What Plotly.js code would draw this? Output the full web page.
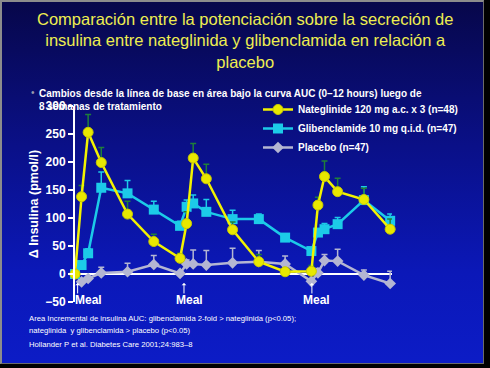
<!DOCTYPE html>
<html>
<head>
<meta charset="utf-8">
<script src="https://cdn.plot.ly/plotly-3.0.1.min.js"></script>
<style>
  html, body { margin:0; padding:0; background:#000; width:490px; height:368px; overflow:hidden; }
  #slide { position:absolute; left:0; top:0; width:481px; height:361px;
    border-top:2px solid #8c8c8c; border-left:2px solid #8c8c8c; border-right:1px solid #6a6a6a; border-bottom:1px solid #6a6a6a;
    background: linear-gradient(to bottom, #07074a 0%, #0a1088 40%, #0b18b8 75%, #0c1cc6 100%); }
  #chart { position:absolute; left:0; top:0; width:490px; height:368px; }
</style>
</head>
<body>
<div id="slide"></div>
<div id="chart"></div>
<script>
// ---- data ----
const timeHours = [0, 0.25, 0.5, 1, 2, 3, 4, 4.25, 4.5, 5, 6, 7, 8, 9, 9.25, 9.5, 10, 11, 12];
const nateglinide    = [0, 138, 253, 199, 107, 58, 28, 90, 207, 170, 79, 22, 4, 5, 123, 174, 147, 133, 80];
const nateglinideErr = [0, 20, 32, 27, 23, 13, 9, 21, 26, 26, 14, 13, 5, 10, 14, 28, 24, 20, 18];
const glibenclamide    = [0, 16, 37, 154, 144, 115, 86, 120, 126, 111, 98, 98, 65, 41, 74, 80, 89, 132, 95];
const glibenclamideErr = [0, 5, 8, 28, 23, 15, 8, 12, 15, 22, 16, 9, 5, 5, 6, 10, 12, 24, 12];
const placebo    = [0, -14, -8, 2, 4, 17, 1, 18, 18, 16, 20, 22, 18, -13, 2, 24, 23, -2, -17];
const placeboErr = [0, 0, 3, 10, 15, 16, 0, 7, 25, 26, 26, 20, 14, 0, 8, 11, 21, 9, 22];
const seriesNames = ['Nateglinide 120 mg a.c. x 3 (n=48)', 'Glibenclamide 10 mg q.i.d. (n=47)', 'Placebo (n=47)'];
const mealTimes = [0.1, 4.15, 9.02];
const mealLabelTimes = [0.5, 4.36, 9.18];
const yTicks = [-50, 0, 50, 100, 150, 200, 250, 300];

const FONT = 'Liberation Sans, Arial, sans-serif';
const zeros = timeHours.map(() => 0);

// plot area in pixels: x 75..392, y 106..302
const L = 75, R = 392, T = 106, B = 302;
const px = x => (x - L) / (R - L);
const py = y => (B - y) / (B - T);

const traces = [
  {
    x: timeHours, y: placebo, name: seriesNames[2], type: 'scatter', mode: 'lines+markers',
    line: {color: '#b4b6d2', width: 2.5},
    marker: {symbol: 'diamond', size: 9, color: '#b4b6d2'},
    error_y: {type: 'data', symmetric: false, array: placeboErr, arrayminus: zeros, color: '#b4b6d2', thickness: 1.5, width: 3},
    cliponaxis: false, legendrank: 3
  },
  {
    x: timeHours, y: glibenclamide, name: seriesNames[1], type: 'scatter', mode: 'lines+markers',
    line: {color: '#1ccbe8', width: 2.5},
    marker: {symbol: 'square', size: 10, color: '#1ccbe8'},
    error_y: {type: 'data', symmetric: false, array: glibenclamideErr, arrayminus: zeros, color: '#1ccbe8', thickness: 1.5, width: 3},
    cliponaxis: false, legendrank: 2
  },
  {
    x: timeHours, y: nateglinide, name: seriesNames[0], type: 'scatter', mode: 'lines+markers',
    line: {color: '#f2f200', width: 2.5},
    marker: {symbol: 'circle', size: 10, color: '#e8e800', line: {color: '#c8c800', width: 1}},
    error_y: {type: 'data', symmetric: false, array: nateglinideErr, arrayminus: zeros, color: '#1f7f3a', thickness: 1.5, width: 3},
    cliponaxis: false, legendrank: 1
  }
];

const annotations = [];
// title
annotations.push({xref: 'paper', yref: 'paper', x: px(245), y: py(8), xanchor: 'center', yanchor: 'top', align: 'center',
  text: 'Comparación entre la potenciación sobre la secreción de<br>insulina entre nateglinida y glibenclamida en relación a<br>placebo',
  showarrow: false, font: {family: FONT, size: 16.5, color: '#eeee50'}});
// subtitle bullet
annotations.push({xref: 'paper', yref: 'paper', x: px(29), y: py(92), xanchor: 'left', yanchor: 'middle',
  text: '•', showarrow: false, font: {family: FONT, size: 10, color: '#9a9aae'}});
annotations.push({xref: 'paper', yref: 'paper', x: px(37), y: py(86), xanchor: 'left', yanchor: 'top', align: 'left',
  text: 'Cambios desde la línea de base en área bajo la curva AUC (0–12 hours) luego de<br>8 semanas de tratamiento',
  showarrow: false, font: {family: FONT, size: 10, color: '#ffffff', weight: 'bold'}});
// meal arrows and labels
mealTimes.forEach(t => {
  annotations.push({xref: 'x', yref: 'y', x: t, y: -16, text: '', showarrow: true, ax: 0, ay: 12,
    arrowcolor: '#ffffff', arrowwidth: 1, arrowhead: 1, arrowsize: 0.8, standoff: 0});
});
mealLabelTimes.forEach(t => {
  annotations.push({xref: 'x', yref: 'y', x: t, y: -46, text: 'Meal', showarrow: false, xanchor: 'center', yanchor: 'middle',
    font: {family: FONT, size: 12, color: '#ffffff', weight: 'bold'}});
});
// footnotes
const foot = [
  ['Area Incremental de insulina AUC: glibenclamida 2-fold > nateglinida (p<0.05);', 318],
  ['nateglinida  y glibenclamida > placebo (p<0.05)', 330],
  ['Hollander P et al. Diabetes Care 2001;24:983–8', 344]
];
foot.forEach(([txt, y]) => {
  annotations.push({xref: 'paper', yref: 'paper', x: px(27), y: py(y), xanchor: 'left', yanchor: 'middle',
    text: txt.replace(/</g, '&lt;').replace(/>/g, '&gt;'), showarrow: false,
    font: {family: FONT, size: 7.7, color: '#ffffff'}});
});

const layout = {
  width: 490, height: 368,
  margin: {l: L, r: 490 - R, t: T, b: 368 - B},
  paper_bgcolor: 'rgba(0,0,0,0)', plot_bgcolor: 'rgba(0,0,0,0)',
  xaxis: {range: [0, 12.07], showgrid: false, zeroline: false, showline: false, showticklabels: false, ticks: ''},
  yaxis: {
    range: [-50, 300], tickvals: yTicks, showgrid: false,
    zeroline: true, zerolinecolor: '#ffffff', zerolinewidth: 2,
    showline: true, linecolor: '#ffffff', linewidth: 2,
    ticks: 'outside', ticklen: 5, tickwidth: 2, tickcolor: '#ffffff',
    tickfont: {family: FONT, size: 12, color: '#ffffff', weight: 'bold'},
    title: {text: 'Δ Insulina (pmol/l)', standoff: 4, font: {family: FONT, size: 12.5, color: '#ffffff', weight: 'bold'}}
  },
  showlegend: true,
  legend: {
    x: px(258), y: py(95), xanchor: 'left', yanchor: 'top',
    bgcolor: 'rgba(0,0,0,0)', borderwidth: 0,
    font: {family: FONT, size: 10, color: '#ffffff', weight: 'bold'},
    itemwidth: 30, tracegroupgap: 0
  },
  annotations: annotations
};

Plotly.newPlot('chart', traces, layout, {displayModeBar: false, staticPlot: true});
</script>
</body>
</html>
